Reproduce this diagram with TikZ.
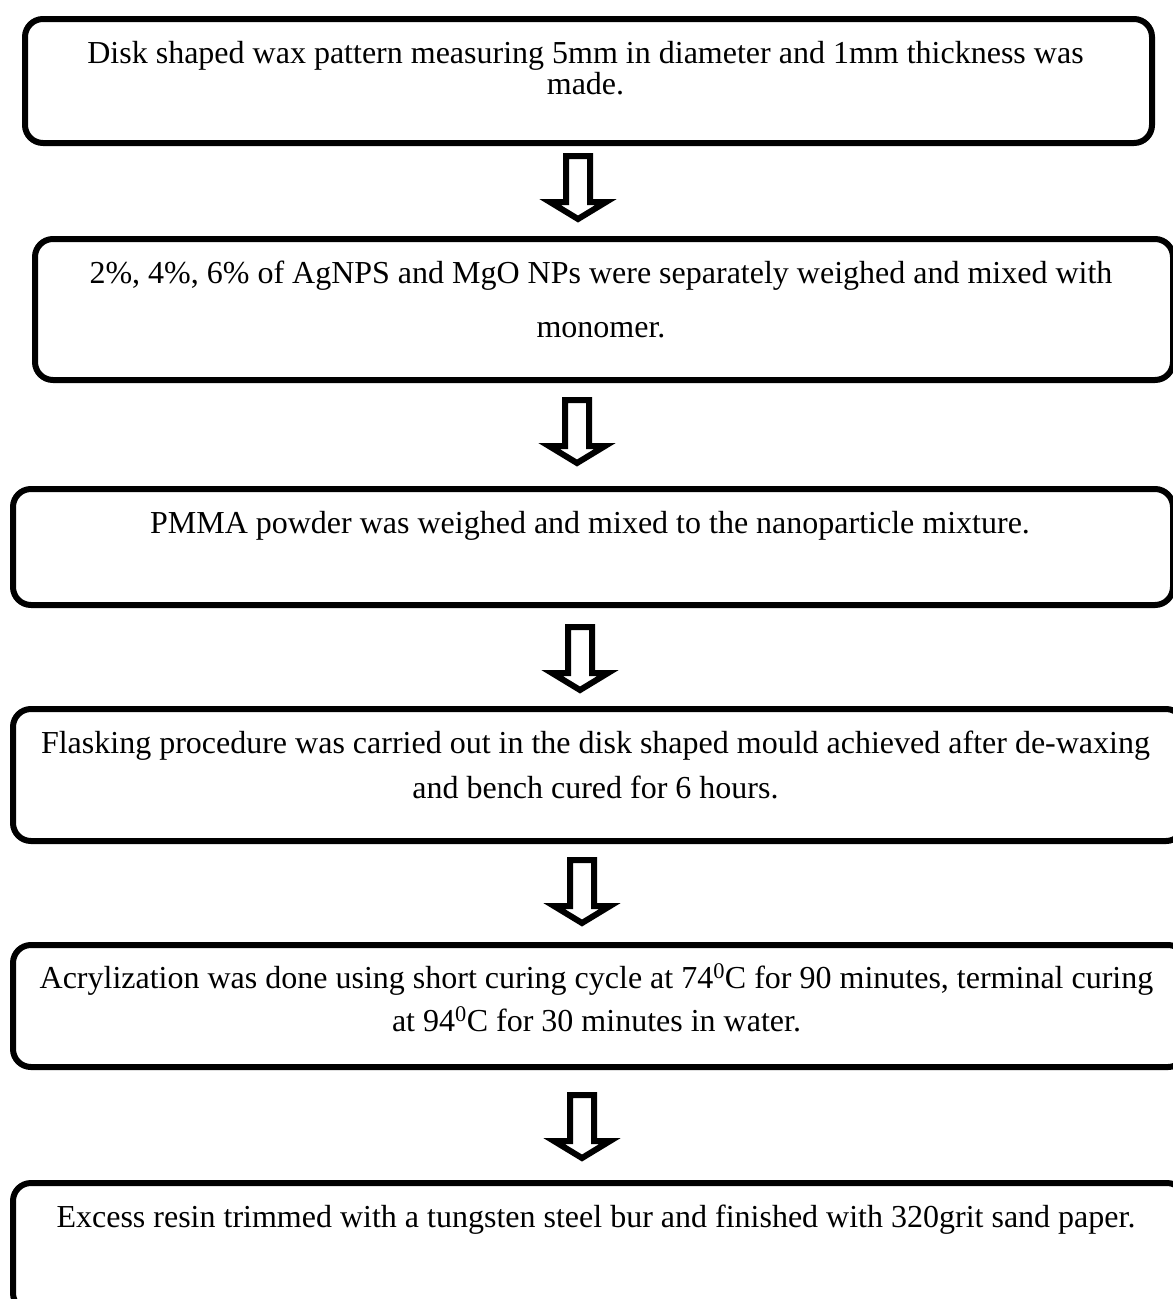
\documentclass[tikz,border=0pt]{standalone}
\usepackage{fontspec}
\setmainfont{Liberation Serif}
\tikzset{
  stepbox/.style={draw=black, line width=6pt, rounded corners=18pt, anchor=north west, inner sep=0pt},
  linetext/.style={anchor=base, inner sep=0pt, font=\fontsize{32}{38}\selectfont},
  blockarrow/.pic={\draw[line width=6pt, miter limit=10, fill=white] (-12,0) -- (12,0) -- (12,46) -- (28,46) -- (0,63) -- (-28,46) -- (-12,46) -- cycle;}
}
\begin{document}
\begin{tikzpicture}[x=1pt,y=-1pt]
\useasboundingbox (0,0) rectangle (1173,1299);
\fill[white] (0,0) rectangle (1173,1299);
\clip (0,0) rectangle (1173,1299);
% boxes
\node[stepbox, minimum width=1127pt, minimum height=124pt] (b1) at (22,16) {};
\node[stepbox, minimum width=1138pt, minimum height=141pt] (b2) at (32,236) {};
\node[stepbox, minimum width=1160pt, minimum height=116pt] (b3) at (10,486) {};
\node[stepbox, minimum width=1171pt, minimum height=132pt] (b4) at (10,706) {};
\node[stepbox, minimum width=1173pt, minimum height=122pt] (b5) at (10,942) {};
\node[stepbox, minimum width=1172pt, minimum height=128pt] (b6) at (10,1180) {};
% texts
\node[linetext] (t1a) at (585.5,63) {Disk shaped wax pattern measuring 5mm in diameter and 1mm thickness was};
\node[linetext] (t1b) at (585.5,94) {made.};
\node[linetext] (t2a) at (601,283) {2\%, 4\%, 6\% of AgNPS and MgO NPs were separately weighed and mixed with};
\node[linetext] (t2b) at (601,337) {monomer.};
\node[linetext] (t3a) at (590,533) {PMMA powder was weighed and mixed to the nanoparticle mixture.};
\node[linetext] (t4a) at (595.5,753) {Flasking procedure was carried out in the disk shaped mould achieved after de-waxing};
\node[linetext] (t4b) at (595.5,798) {and bench cured for 6 hours.};
\node[linetext] (t5a) at (596.5,988) {Acrylization was done using short curing cycle at 74\textsuperscript{0}C for 90 minutes, terminal curing};
\node[linetext] (t5b) at (596.5,1031) {at 94\textsuperscript{0}C for 30 minutes in water.};
\node[linetext] (t6a) at (596,1227) {Excess resin trimmed with a tungsten steel bur and finished with 320grit sand paper.};
% arrows
\pic (a1) at (578,156) {blockarrow};
\pic (a2) at (577,400) {blockarrow};
\pic (a3) at (580,627) {blockarrow};
\pic (a4) at (582,860) {blockarrow};
\pic (a5) at (582,1095) {blockarrow};
\end{tikzpicture}
\end{document}
